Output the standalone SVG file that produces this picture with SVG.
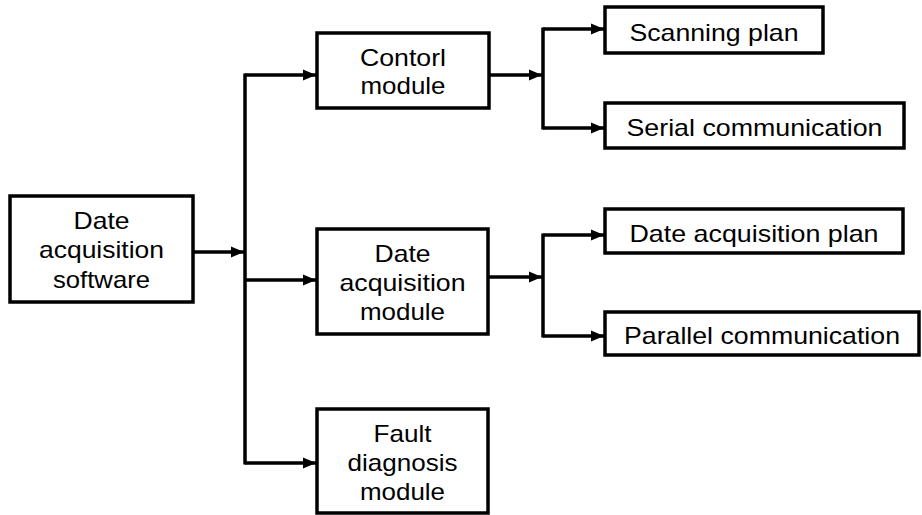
<svg xmlns="http://www.w3.org/2000/svg" width="922" height="515" viewBox="0 0 922 515">
<style>
.box{fill:#fff;stroke:#000;stroke-width:3.5}
.ln{fill:none;stroke:#000;stroke-width:3.5}
.t{font-family:"Liberation Sans",Arial,sans-serif;font-size:24px;fill:#000;text-anchor:middle}
</style>
<defs>
<marker id="ah" markerUnits="userSpaceOnUse" markerWidth="14" markerHeight="14" viewBox="0 0 14 14" refX="13" refY="7" orient="auto">
<path d="M0,1.5 L13,7 L0,12.5 Z" fill="#000"/>
</marker>
</defs>
<rect width="922" height="515" fill="#fff"/>
<g id="connectors">
<line class="ln" x1="193" y1="252" x2="244" y2="252" marker-end="url(#ah)"/>
<line class="ln" x1="245" y1="73.5" x2="245" y2="464.5"/>
<line class="ln" x1="245" y1="75" x2="316" y2="75" marker-end="url(#ah)"/>
<line class="ln" x1="245" y1="280" x2="316" y2="280" marker-end="url(#ah)"/>
<line class="ln" x1="245" y1="463" x2="316" y2="463" marker-end="url(#ah)"/>
<line class="ln" x1="489" y1="75" x2="542" y2="75" marker-end="url(#ah)"/>
<line class="ln" x1="543" y1="27.5" x2="543" y2="129.5"/>
<line class="ln" x1="543" y1="29" x2="604" y2="29" marker-end="url(#ah)"/>
<line class="ln" x1="543" y1="128" x2="604" y2="128" marker-end="url(#ah)"/>
<line class="ln" x1="488" y1="277" x2="542" y2="277" marker-end="url(#ah)"/>
<line class="ln" x1="543" y1="233.5" x2="543" y2="337.5"/>
<line class="ln" x1="543" y1="235" x2="604" y2="235" marker-end="url(#ah)"/>
<line class="ln" x1="543" y1="336" x2="604" y2="336" marker-end="url(#ah)"/>
</g>
<g id="software">
<rect class="box" x="10" y="196" width="183" height="106"/>
<text class="t" x="101.5" y="229" textLength="56" lengthAdjust="spacingAndGlyphs">Date</text>
<text class="t" x="101.5" y="258" textLength="125" lengthAdjust="spacingAndGlyphs">acquisition</text>
<text class="t" x="101.5" y="288" textLength="97" lengthAdjust="spacingAndGlyphs">software</text>
</g>
<g id="control">
<rect class="box" x="317" y="33" width="172" height="75"/>
<text class="t" x="403" y="65.5" textLength="86" lengthAdjust="spacingAndGlyphs">Contorl</text>
<text class="t" x="403" y="94" textLength="85" lengthAdjust="spacingAndGlyphs">module</text>
</g>
<g id="daqmodule">
<rect class="box" x="317" y="229" width="171" height="105"/>
<text class="t" x="402.5" y="261.5" textLength="56" lengthAdjust="spacingAndGlyphs">Date</text>
<text class="t" x="402.5" y="290.5" textLength="126" lengthAdjust="spacingAndGlyphs">acquisition</text>
<text class="t" x="402.5" y="320" textLength="85" lengthAdjust="spacingAndGlyphs">module</text>
</g>
<g id="fault">
<rect class="box" x="317" y="409" width="171" height="104"/>
<text class="t" x="402.5" y="441.5" textLength="58" lengthAdjust="spacingAndGlyphs">Fault</text>
<text class="t" x="402.5" y="471" textLength="110" lengthAdjust="spacingAndGlyphs">diagnosis</text>
<text class="t" x="402.5" y="500" textLength="85" lengthAdjust="spacingAndGlyphs">module</text>
</g>
<g id="scanning">
<rect class="box" x="605" y="7" width="218" height="46"/>
<text class="t" x="714" y="40.5" textLength="169" lengthAdjust="spacingAndGlyphs">Scanning plan</text>
</g>
<g id="serial">
<rect class="box" x="605" y="103" width="299" height="45"/>
<text class="t" x="754.5" y="136" textLength="256" lengthAdjust="spacingAndGlyphs">Serial communication</text>
</g>
<g id="daqplan">
<rect class="box" x="605" y="209" width="298" height="44"/>
<text class="t" x="754" y="241.5" textLength="249" lengthAdjust="spacingAndGlyphs">Date acquisition plan</text>
</g>
<g id="parallel">
<rect class="box" x="605" y="312" width="314" height="43"/>
<text class="t" x="762" y="344" textLength="276" lengthAdjust="spacingAndGlyphs">Parallel communication</text>
</g>
</svg>
